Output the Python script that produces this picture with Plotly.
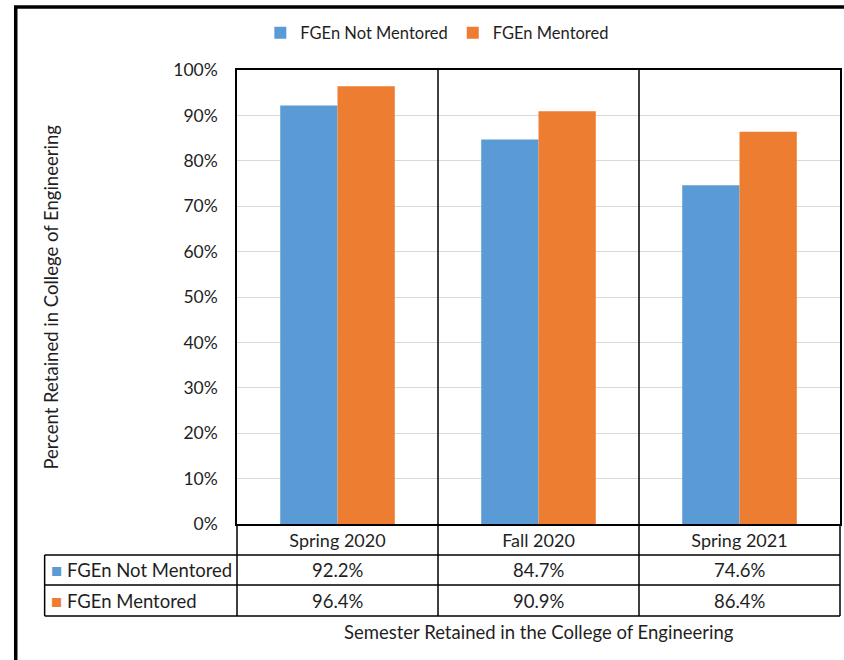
import plotly.graph_objects as go

categories = ["Spring 2020", "Fall 2020", "Spring 2021"]
series_names = ["FGEn Not Mentored", "FGEn Mentored"]
not_mentored = [92.2, 84.7, 74.6]
mentored = [96.4, 90.9, 86.4]
colors = ["#5B9BD5", "#ED7D31"]

W, H = 844, 660
L, R, T, B = 237, 2, 70, 136
pw, ph = W - L - R, H - T - B

def px_x(p):
    return (p - L) / pw

def px_y(p):
    return (H - B - p) / ph

FONT = "Lato"
TXT = "#1f1f1f"
fig = go.Figure()
for name, vals, c in zip(series_names, [not_mentored, mentored], colors):
    fig.add_trace(go.Bar(x=categories, y=[v / 100 for v in vals], name=name,
                         marker=dict(color=c, line=dict(width=0))))

shapes = []
line = dict(color="black", width=1.5)
# outer frame
shapes.append(dict(type="rect", xref="paper", yref="paper", x0=px_x(15), x1=1.3,
                   y0=-0.6, y1=px_y(7), line=dict(color="black", width=3.5)))
# table horizontal lines
for yp in [555, 585, 616]:
    shapes.append(dict(type="line", xref="paper", yref="paper", x0=px_x(44), x1=1,
                       y0=px_y(yp), y1=px_y(yp), line=line))
# table verticals
shapes.append(dict(type="line", xref="paper", yref="paper", x0=px_x(44), x1=px_x(44),
                   y0=px_y(555), y1=px_y(616), line=line))
for xp in [0, 1]:
    shapes.append(dict(type="line", xref="paper", yref="paper", x0=xp, x1=xp,
                       y0=0, y1=px_y(616), line=line))
for xc in [0.5, 1.5]:
    shapes.append(dict(type="line", xref="x", yref="paper", x0=xc, x1=xc,
                       y0=px_y(616), y1=1, line=line))

annotations = []
for row, (name, vals, c) in enumerate(zip(series_names, [not_mentored, mentored], colors)):
    yc = px_y(570 + 30.5 * row)
    annotations.append(dict(xref="paper", yref="paper", x=px_x(48), y=yc, xanchor="left",
                            yanchor="middle", showarrow=False,
                            text=f"<span style='color:{c}'>■</span> {name}",
                            font=dict(family=FONT, size=18.5, color=TXT)))
    for cat, v in zip(categories, vals):
        annotations.append(dict(xref="x", yref="paper", x=cat, y=yc, xanchor="center",
                                yanchor="middle", showarrow=False, text=f"{v:.1f}%",
                                font=dict(family=FONT, size=18.5, color=TXT)))
annotations.append(dict(xref="paper", yref="paper", x=0.5, y=px_y(632), showarrow=False,
                        xanchor="center", yanchor="middle",
                        text="Semester Retained in the College of Engineering",
                        font=dict(family=FONT, size=18.5, color=TXT)))
annotations.append(dict(xref="paper", yref="paper", x=px_x(50), y=0.5, showarrow=False,
                        xanchor="center", yanchor="middle", textangle=-90,
                        text="Percent Retained in College of Engineering",
                        font=dict(family=FONT, size=18.5, color=TXT)))

fig.update_layout(
    width=W, height=H, margin=dict(l=L, r=R, t=T, b=B),
    paper_bgcolor="white", plot_bgcolor="white",
    barmode="group", bargap=0.43, bargroupgap=0,
    font=dict(family=FONT, size=17, color=TXT),
    showlegend=True,
    legend=dict(orientation="h", x=px_x(438), xanchor="center", y=px_y(33), yanchor="middle",
                font=dict(family=FONT, size=16.5, color=TXT), itemwidth=30,
                traceorder="normal"),
    shapes=shapes, annotations=annotations,
    xaxis=dict(type="category", range=[-0.5, 2.5], showline=True, linecolor="black",
               linewidth=1.5, mirror=True, showgrid=False, ticks="",
               tickfont=dict(family=FONT, size=18, color=TXT)),
    yaxis=dict(range=[0, 1], dtick=0.1, tickformat=".0%", showline=True, linecolor="black",
               linewidth=1.5, mirror=True, showgrid=True, gridcolor="#D9D9D9", gridwidth=1,
               ticks="", ticklabelstandoff=14, zeroline=False,
               tickfont=dict(family=FONT, size=17.5, color=TXT)),
)

fig.write_html("out.html")
